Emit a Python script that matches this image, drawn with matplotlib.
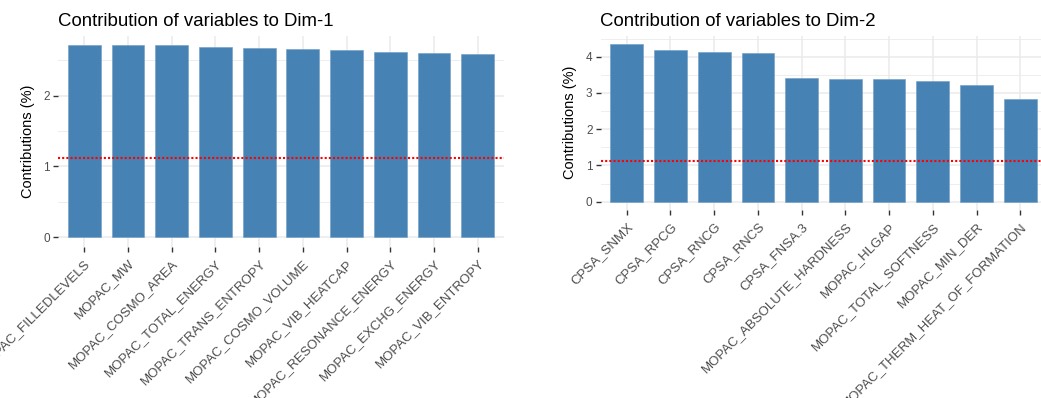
import matplotlib.pyplot as plt
import matplotlib.transforms as mtransforms
import numpy as np

plt.rcParams['font.family'] = ['Liberation Sans', 'DejaVu Sans']

# Top contributing variables per dimension (%)
dim1_vars = ['MOPAC_FILLEDLEVELS', 'MOPAC_MW', 'MOPAC_COSMO_AREA', 'MOPAC_TOTAL_ENERGY',
             'MOPAC_TRANS_ENTROPY', 'MOPAC_COSMO_VOLUME', 'MOPAC_VIB_HEATCAP',
             'MOPAC_RESONANCE_ENERGY', 'MOPAC_EXCHG_ENERGY', 'MOPAC_VIB_ENTROPY']
dim1_contrib = [2.711, 2.710, 2.709, 2.688, 2.678, 2.655, 2.645, 2.613, 2.607, 2.588]

dim2_vars = ['CPSA_SNMX', 'CPSA_RPCG', 'CPSA_RNCG', 'CPSA_RNCS', 'CPSA_FNSA.3',
             'MOPAC_ABSOLUTE_HARDNESS', 'MOPAC_HLGAP', 'MOPAC_TOTAL_SOFTNESS',
             'MOPAC_MIN_DER', 'MOPAC_THERM_HEAT_OF_FORMATION']
dim2_contrib = [4.36, 4.18, 4.14, 4.09, 3.42, 3.38, 3.38, 3.33, 3.21, 2.84]

# expected average contribution: 100 / number of variables
n_vars = 90
expected = 100 / n_vars

W, H = 1041, 398
fig = plt.figure(figsize=(W / 100, H / 100), dpi=100)


def contrib_panel(rect, names, values, title, yticks):
    ax = fig.add_axes([rect[0] / W, 1 - rect[3] / H, rect[2] / W, (rect[3] - rect[1]) / H])
    x = np.arange(len(names))
    vmax = max(values)
    ax.set_xlim(-0.6, len(names) - 0.4)
    ax.set_ylim(-0.05 * vmax, 1.05 * vmax)

    ax.set_yticks(yticks)
    ax.set_yticks([t + 0.5 for t in yticks], minor=True)
    ax.set_xticks(x)
    labels = ax.set_xticklabels(names, rotation=45, ha='right', va='top',
                                rotation_mode='anchor', fontsize=9.5)
    shift = mtransforms.ScaledTranslation(0.03, 0, fig.dpi_scale_trans)
    for lab in labels:
        lab.set_transform(lab.get_transform() + shift)

    ax.grid(True, which='major', color='#EBEBEB', linewidth=1.1)
    ax.grid(True, which='minor', axis='y', color='#EBEBEB', linewidth=0.6)
    ax.set_axisbelow(True)
    for s in ax.spines.values():
        s.set_visible(False)

    ax.bar(x, values, width=0.75, color='steelblue', edgecolor='#6E9BC5', linewidth=0.4)
    ax.axhline(expected, color='red', linewidth=1.5, linestyle=(0, (1, 1)))

    ax.tick_params(axis='both', which='major', length=3.8, width=1, color='#333333',
                   labelcolor='#4D4D4D')
    ax.tick_params(axis='y', pad=2, labelsize=8.5)
    ax.tick_params(axis='x', pad=4)
    ax.tick_params(which='minor', length=0)
    ax.set_ylabel('Contributions (%)', fontsize=10.5, color='black', labelpad=6)
    ax.set_title(title, fontsize=13.4, loc='left', pad=7)
    return ax


contrib_panel((58, 35.7, 446, 246.6), dim1_vars, dim1_contrib,
              'Contribution of variables to Dim-1', [0, 1, 2])
contrib_panel((600.5, 35.7, 446, 209.6), dim2_vars, dim2_contrib,
              'Contribution of variables to Dim-2', [0, 1, 2, 3, 4])

fig.savefig('out.png', dpi=100)
